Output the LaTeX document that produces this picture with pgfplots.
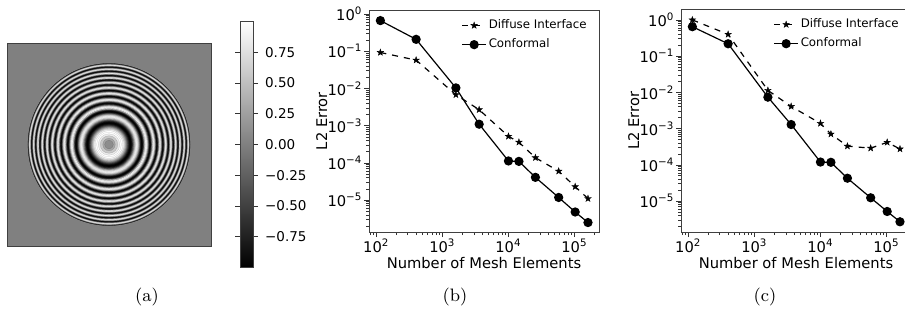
\documentclass[border=0pt]{standalone}
\usepackage{fontspec}
\usepackage{pgfplots}
\pgfplotsset{compat=1.18}
\newfontfamily\dv{DejaVu Sans}
\definecolor{bggray}{gray}{0.5}
\pgfdeclareplotmark{fstar}{%
 \pgfpathmoveto{\pgfpointpolar{90}{\pgfplotmarksize}}%
 \pgfpathlineto{\pgfpointpolar{126}{0.4\pgfplotmarksize}}%
 \pgfpathlineto{\pgfpointpolar{162}{\pgfplotmarksize}}%
 \pgfpathlineto{\pgfpointpolar{198}{0.4\pgfplotmarksize}}%
 \pgfpathlineto{\pgfpointpolar{234}{\pgfplotmarksize}}%
 \pgfpathlineto{\pgfpointpolar{270}{0.4\pgfplotmarksize}}%
 \pgfpathlineto{\pgfpointpolar{306}{\pgfplotmarksize}}%
 \pgfpathlineto{\pgfpointpolar{342}{0.4\pgfplotmarksize}}%
 \pgfpathlineto{\pgfpointpolar{18}{\pgfplotmarksize}}%
 \pgfpathlineto{\pgfpointpolar{54}{0.4\pgfplotmarksize}}%
 \pgfpathclose
 \pgfusepathqfillstroke}
\begin{document}
\begin{tikzpicture}
\useasboundingbox (0,0) rectangle (452.5pt,-156pt);
% ---------------- (a) ----------------
\begin{axis}[at={(3.5pt,-21.5pt)}, anchor=north west, scale only axis,
  width=102pt, height=101.5pt, xmin=-1, xmax=1, ymin=-1, ymax=1,
  xtick=\empty, ytick=\empty,
  axis line style={black!75, line width=0.4pt},
  axis background/.style={fill=bggray},
  colormap={bw}{gray(0cm)=(0); gray(1cm)=(1)},
  point meta min=-1, point meta max=1,
  colorbar,
  colorbar style={at={(parent axis.east)}, anchor=west, xshift=6pt,
    width=6.5pt, height=123pt,
    ytick={-0.75,-0.5,-0.25,0,0.25,0.5,0.75},
    yticklabels={−0.75,−0.50,−0.25,0.00,0.25,0.50,0.75},
    yticklabel style={font=\dv\fontsize{6.75}{8}\selectfont},
    tick align=outside, major tick length=2.5pt,
    axis line style={black!75, line width=0.4pt},
    every tick/.style={black!80, line width=0.4pt}},
  ]
\addplot[scatter, only marks, mark=*, point meta=explicit,
  visualization depends on={\thisrow{r} \as \rr},
  scatter/@pre marker code/.append style={/tikz/mark size={0.5pt*\rr}},
  mark options={line width=0.1pt}]
 table[x=x, y=y, meta=v] {
x y r v
0 0 81.000 -0.924
0 0 80.528 -0.383
0 0 80.053 0.383
0 0 79.575 0.924
0 0 79.094 0.924
0 0 78.611 0.383
0 0 78.124 -0.383
0 0 77.634 -0.924
0 0 77.141 -0.924
0 0 76.645 -0.383
0 0 76.146 0.383
0 0 75.643 0.924
0 0 75.137 0.924
0 0 74.627 0.383
0 0 74.115 -0.383
0 0 73.598 -0.924
0 0 73.078 -0.924
0 0 72.554 -0.383
0 0 72.026 0.383
0 0 71.495 0.924
0 0 70.959 0.924
0 0 70.420 0.383
0 0 69.876 -0.383
0 0 69.327 -0.924
0 0 68.775 -0.924
0 0 68.218 -0.383
0 0 67.656 0.383
0 0 67.091 0.924
0 0 66.520 0.924
0 0 65.944 0.383
0 0 65.363 -0.383
0 0 64.777 -0.924
0 0 64.185 -0.924
0 0 63.588 -0.383
0 0 62.985 0.383
0 0 62.377 0.924
0 0 61.762 0.924
0 0 61.142 0.383
0 0 60.515 -0.383
0 0 59.881 -0.924
0 0 59.240 -0.924
0 0 58.593 -0.383
0 0 57.938 0.383
0 0 57.276 0.924
0 0 56.606 0.924
0 0 55.928 0.383
0 0 55.242 -0.383
0 0 54.547 -0.924
0 0 53.843 -0.924
0 0 53.130 -0.383
0 0 52.407 0.383
0 0 51.674 0.924
0 0 50.931 0.924
0 0 50.176 0.383
0 0 49.410 -0.383
0 0 48.632 -0.924
0 0 47.841 -0.924
0 0 47.036 -0.383
0 0 46.218 0.383
0 0 45.386 0.924
0 0 44.537 0.924
0 0 43.673 0.383
0 0 42.790 -0.383
0 0 41.889 -0.924
0 0 40.968 -0.924
0 0 40.026 -0.383
0 0 39.062 0.383
0 0 38.073 0.924
0 0 37.057 0.924
0 0 36.013 0.383
0 0 34.938 -0.195
0 0 34.388 -0.556
0 0 33.828 -0.831
0 0 33.260 -0.981
0 0 32.681 -0.981
0 0 32.092 -0.831
0 0 31.493 -0.556
0 0 30.881 -0.195
0 0 30.257 0.195
0 0 29.620 0.556
0 0 28.969 0.831
0 0 28.303 0.981
0 0 27.621 0.981
0 0 26.921 0.831
0 0 26.204 0.556
0 0 25.465 0.195
0 0 24.705 -0.195
0 0 23.921 -0.556
0 0 23.109 -0.831
0 0 22.269 -0.981
0 0 21.395 -0.981
0 0 20.484 -0.831
0 0 19.531 -0.556
0 0 18.529 -0.195
0 0 17.469 0.195
0 0 16.341 0.556
0 0 15.129 0.831
0 0 13.811 0.981
0 0 12.352 0.981
0 0 10.698 0.831
0 0 8.735 0.556
0 0 6.176 0.290
0 0 4.367 0.098
};
\end{axis}
% ---------------- (b) ----------------
\begin{axis}[at={(184.5pt,-5pt)}, anchor=north west, height=111pt,
  ymin=1.39e-6, ymax=1.29,
  xmode=log, ymode=log, scale only axis, width=115pt,
  xmin=77.4, xmax=2.35e5,
  tick align=outside, tick pos=left,
  major tick length=2.5pt, minor tick length=1.5pt,
  every tick/.style={black!80, line width=0.4pt},
  axis line style={black!75, line width=0.4pt},
  xtick={100,1000,10000,100000},
  xticklabels={10\textsuperscript{2},10\textsuperscript{3},10\textsuperscript{4},10\textsuperscript{5}},
  minor xtick={80,90,200,300,400,500,600,700,800,900,2000,3000,4000,5000,6000,7000,8000,9000,20000,30000,40000,50000,60000,70000,80000,90000,200000},
  ytick={1e-5,1e-4,1e-3,1e-2,1e-1,1},
  yticklabels={10\textsuperscript{−5},10\textsuperscript{−4},10\textsuperscript{−3},10\textsuperscript{−2},10\textsuperscript{−1},10\textsuperscript{0}},
  minor ytick={2e-6,3e-6,4e-6,5e-6,6e-6,7e-6,8e-6,9e-6,2e-5,3e-5,4e-5,5e-5,6e-5,7e-5,8e-5,9e-5,2e-4,3e-4,4e-4,5e-4,6e-4,7e-4,8e-4,9e-4,2e-3,3e-3,4e-3,5e-3,6e-3,7e-3,8e-3,9e-3,0.02,0.03,0.04,0.05,0.06,0.07,0.08,0.09,0.2,0.3,0.4,0.5,0.6,0.7,0.8,0.9},
  ticklabel style={font=\dv\fontsize{7.35}{8}\selectfont, inner sep=0.6pt},
  label style={font=\dv\fontsize{7.35}{9}\selectfont, inner sep=0.5pt},
  xlabel={Number of Mesh Elements}, ylabel={L2 Error},
  xlabel style={at={(axis description cs:0.5,-0.14)}, anchor=center},
  ylabel style={at={(axis description cs:-0.205,0.5)}, anchor=center},
  legend cell align=left,
  legend style={draw=none, fill=none, at={(0.957,0.968)}, anchor=north east,
    font=\dv\fontsize{5.9}{7}\selectfont, inner sep=0pt, row sep=1.6pt,
    nodes={inner sep=1pt}},
  legend image code/.code={\draw[mark repeat=2,mark phase=2,#1] plot coordinates {(0pt,0pt) (6pt,0pt) (12pt,0pt)};},
  ]
\addplot[black, dashed, line width=0.6pt, mark=fstar, mark size=1.7pt, mark options={solid, fill=black, line width=0.2pt}] coordinates {(115,0.093) (400,0.058) (1600,0.0068) (3600,0.0027) (10000,5.2e-4) (14400,3.6e-4) (25600,1.38e-4) (57600,6e-5) (102400,2.3e-5) (160000,1.1e-5)};
\addlegendentry{Diffuse Interface}
\addplot[black, solid, line width=0.6pt, mark=*, mark size=2pt, mark options={fill=black}] coordinates {(115,0.67) (400,0.21) (1600,0.0104) (3600,0.0011) (10000,1.13e-4) (14400,1.1e-4) (25600,4.1e-5) (57600,1.18e-5) (102400,4.8e-6) (160000,2.5e-6)};
\addlegendentry{Conformal}
\end{axis}
% ---------------- (c) ----------------
\begin{axis}[at={(340.5pt,-4.5pt)}, anchor=north west, height=111.5pt,
  ymin=1.41e-6, ymax=2.0,
  xmode=log, ymode=log, scale only axis, width=115pt,
  xmin=77.4, xmax=2.35e5,
  tick align=outside, tick pos=left,
  major tick length=2.5pt, minor tick length=1.5pt,
  every tick/.style={black!80, line width=0.4pt},
  axis line style={black!75, line width=0.4pt},
  xtick={100,1000,10000,100000},
  xticklabels={10\textsuperscript{2},10\textsuperscript{3},10\textsuperscript{4},10\textsuperscript{5}},
  minor xtick={80,90,200,300,400,500,600,700,800,900,2000,3000,4000,5000,6000,7000,8000,9000,20000,30000,40000,50000,60000,70000,80000,90000,200000},
  ytick={1e-5,1e-4,1e-3,1e-2,1e-1,1},
  yticklabels={10\textsuperscript{−5},10\textsuperscript{−4},10\textsuperscript{−3},10\textsuperscript{−2},10\textsuperscript{−1},10\textsuperscript{0}},
  minor ytick={2e-6,3e-6,4e-6,5e-6,6e-6,7e-6,8e-6,9e-6,2e-5,3e-5,4e-5,5e-5,6e-5,7e-5,8e-5,9e-5,2e-4,3e-4,4e-4,5e-4,6e-4,7e-4,8e-4,9e-4,2e-3,3e-3,4e-3,5e-3,6e-3,7e-3,8e-3,9e-3,0.02,0.03,0.04,0.05,0.06,0.07,0.08,0.09,0.2,0.3,0.4,0.5,0.6,0.7,0.8,0.9},
  ticklabel style={font=\dv\fontsize{7.35}{8}\selectfont, inner sep=0.6pt},
  label style={font=\dv\fontsize{7.35}{9}\selectfont, inner sep=0.5pt},
  xlabel={Number of Mesh Elements}, ylabel={L2 Error},
  xlabel style={at={(axis description cs:0.5,-0.14)}, anchor=center},
  ylabel style={at={(axis description cs:-0.205,0.5)}, anchor=center},
  legend cell align=left,
  legend style={draw=none, fill=none, at={(0.957,0.968)}, anchor=north east,
    font=\dv\fontsize{5.9}{7}\selectfont, inner sep=0pt, row sep=1.6pt,
    nodes={inner sep=1pt}},
  legend image code/.code={\draw[mark repeat=2,mark phase=2,#1] plot coordinates {(0pt,0pt) (6pt,0pt) (12pt,0pt)};},
  ]
\addplot[black, dashed, line width=0.6pt, mark=fstar, mark size=1.7pt, mark options={solid, fill=black, line width=0.2pt}] coordinates {(115,1.0) (400,0.40) (1600,0.0114) (3600,0.0041) (10000,0.0014) (14400,7.1e-4) (25600,3.3e-4) (57600,2.9e-4) (102400,4.2e-4) (160000,2.75e-4)};
\addlegendentry{Diffuse Interface}
\addplot[black, solid, line width=0.6pt, mark=*, mark size=2pt, mark options={fill=black}] coordinates {(115,0.65) (400,0.22) (1600,0.0074) (3600,0.0013) (10000,1.2e-4) (14400,1.18e-4) (25600,4.3e-5) (57600,1.24e-5) (102400,5.2e-6) (160000,2.7e-6)};
\addlegendentry{Conformal}
\end{axis}
% ---------------- captions ----------------
\node[font=\fontsize{9}{10}\selectfont] at (73.5pt,-148.5pt) {(a)};
\node[font=\fontsize{9}{10}\selectfont] at (227.5pt,-148.5pt) {(b)};
\node[font=\fontsize{9}{10}\selectfont] at (382.5pt,-148.5pt) {(c)};
\end{tikzpicture}
\end{document}
